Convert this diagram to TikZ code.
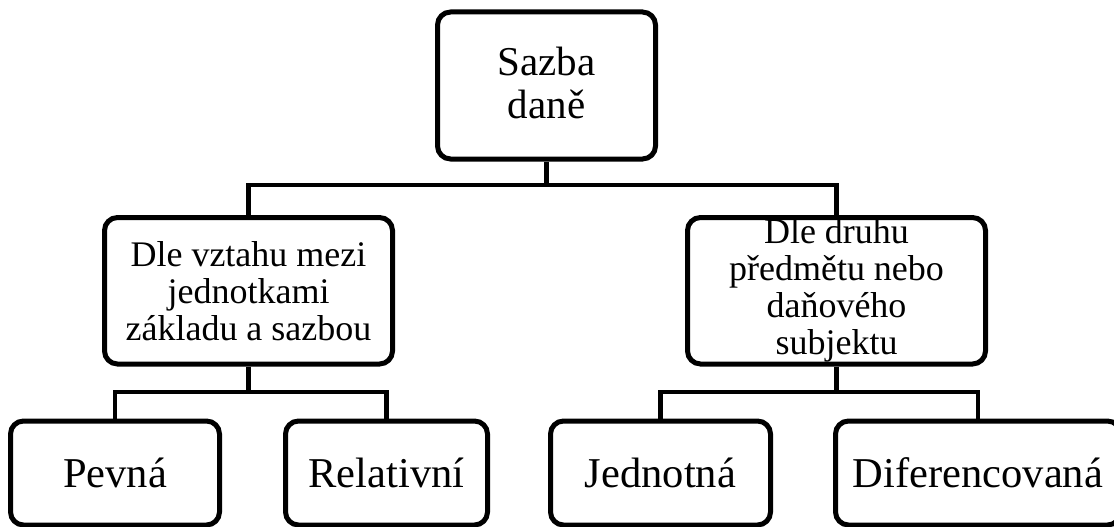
\documentclass[tikz,border=0pt]{standalone}
\usepackage{fontspec}
\setmainfont{Liberation Serif}
\begin{document}
\begin{tikzpicture}[x=1pt,y=-1pt,
  box/.style={draw=black,line width=5pt,rounded corners=13pt,fill=white,inner sep=0pt,align=center},
  toptext/.style={font=\fontsize{41}{43}\selectfont},
  bigtext/.style={font=\fontsize{42.5}{44}\selectfont},
  midtext/.style={font=\fontsize{36}{37}\selectfont},
  conn/.style={draw=black,line width=4.5pt,line join=miter}]
\useasboundingbox (0,0) rectangle (1114,527);
\clip (0,0) rectangle (1114,527);
\node[box,toptext,minimum width=218pt,minimum height=147pt,text depth=6pt] (top) at (546.5,85.5) {Sazba\\daně};
\node[box,midtext,minimum width=288pt,minimum height=146.5pt] (m1) at (248.5,290.75) {Dle vztahu mezi\\jednotkami\\základu a sazbou};
\node[box,midtext,minimum width=298pt,minimum height=146.5pt] (m2) at (836.5,290.75) {Dle druhu\\předmětu nebo\\daňového\\subjektu};
\node[box,bigtext,minimum width=209pt,minimum height=104pt] (b1) at (115,473) {Pevná};
\node[box,bigtext,minimum width=202pt,minimum height=104pt] (b2) at (386.5,473) {Relativní};
\node[box,bigtext,minimum width=220pt,minimum height=104pt] (b3) at (660.5,473) {Jednotná};
\node[box,bigtext,minimum width=285pt,minimum height=104pt] (b4) at (978,473) {Diferencovaná};
\coordinate (bus1) at (0,185);
\coordinate (bus2) at (0,392);
\draw[conn] (top.south) -- (top.south |- bus1);
\draw[conn] (m1.north) |- (top.south |- bus1) -| (m2.north);
\draw[conn] (m1.south) -- (m1.south |- bus2);
\draw[conn] (b1.north) |- (m1.south |- bus2) -| (b2.north);
\draw[conn] (m2.south) -- (m2.south |- bus2);
\draw[conn] (b3.north) |- (m2.south |- bus2) -| (b4.north);
\end{tikzpicture}
\end{document}
